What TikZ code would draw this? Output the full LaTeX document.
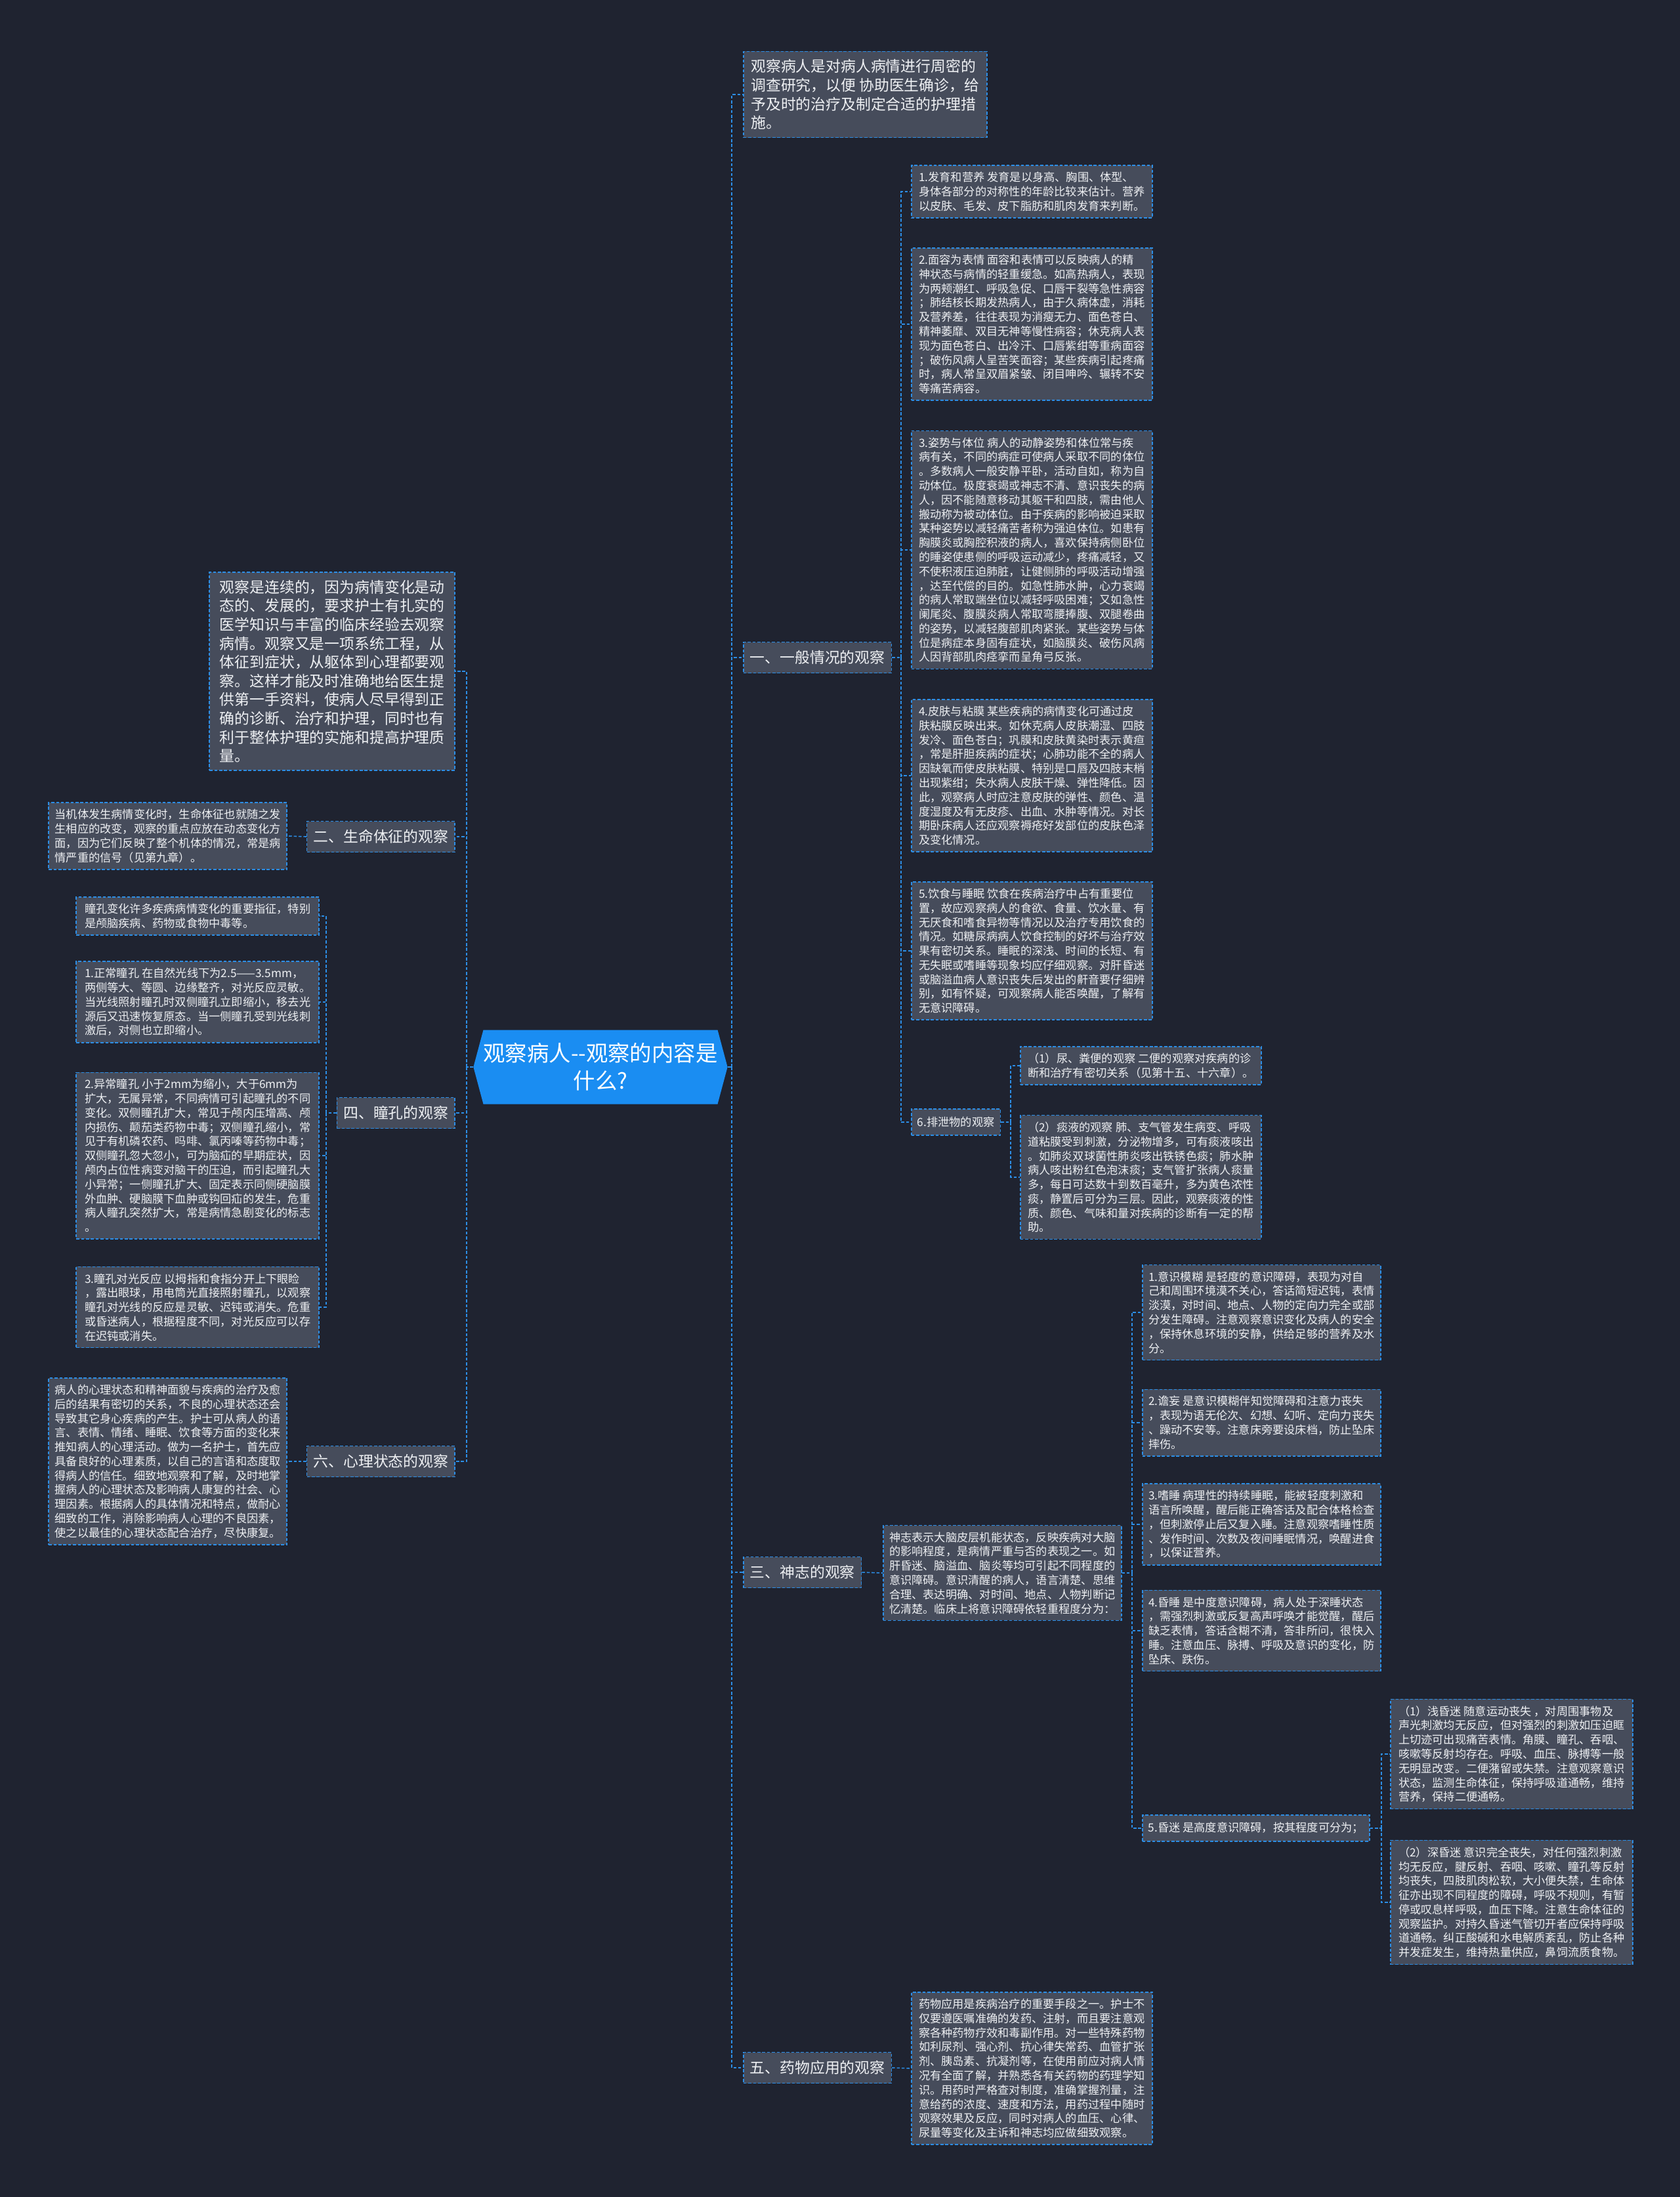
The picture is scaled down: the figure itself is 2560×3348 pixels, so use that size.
\documentclass[tikz,border=0pt]{standalone}
\usepackage{fontspec}
\setmainfont{Noto Sans CJK SC}
\usetikzlibrary{shapes.symbols}
\definecolor{bgc}{HTML}{1F2330}
\definecolor{boxc}{HTML}{464C5B}
\definecolor{lnc}{HTML}{2C8EE6}
\definecolor{hubc}{HTML}{1A8DF2}
\definecolor{txc}{HTML}{EEF0F3}
\begin{document}
\begin{tikzpicture}[x=0.02cm, y=-0.02cm, box/.style={draw=lnc, fill=boxc, line width=0.9pt, dash pattern=on 2.6pt off 1.6pt, text=txc, align=left, inner xsep=0.18cm, inner ysep=0.2cm, minimum width=7.34cm, font=\fontsize{9.8pt}{12.4pt}\selectfont}, big/.style={box, inner xsep=0.2cm, inner ysep=0.24cm, font=\fontsize{13pt}{16.3pt}\selectfont}, branch/.style={box, minimum width=0pt, minimum height=0.94cm, inner xsep=0.2cm, inner ysep=0pt, font=\fontsize{13pt}{16pt}\selectfont}, leaf/.style={box, minimum width=0pt, minimum height=0.8cm, inner ysep=0pt}, link/.style={draw=lnc, line width=0.9pt, dash pattern=on 2.6pt off 1.6pt}]
	\fill[bgc] (0,0) rectangle (2560,3348);
	% root
	\node[signal, signal to=east and west, signal pointer angle=150, fill=hubc, text=white, align=center, minimum width=7.56cm, minimum height=2.26cm, inner sep=0pt, font=\fontsize{19pt}{24pt}\selectfont] (root) at (915,1626) {观察病人-{}-观察的内容是\\什么?};
	% right side
	\node[big, anchor=west, minimum width=7.42cm] (intro) at (1132,144) {观察病人是对病人病情进行周密的\\调查研究，以便 协助医生确诊，给\\予及时的治疗及制定合适的护理措\\施。};
	\node[branch, anchor=west] (g1) at (1132,1002) {一、一般情况的观察};
	\node[box, anchor=west] (b1) at (1388,292) {1.发育和营养 发育是以身高、胸围、体型、\\身体各部分的对称性的年龄比较来估计。营养\\以皮肤、毛发、皮下脂肪和肌肉发育来判断。};
	\node[box, anchor=west] (b2) at (1388,494) {2.面容为表情 面容和表情可以反映病人的精\\神状态与病情的轻重缓急。如高热病人，表现\\为两颊潮红、呼吸急促、口唇干裂等急性病容\\；肺结核长期发热病人，由于久病体虚，消耗\\及营养差，往往表现为消瘦无力、面色苍白、\\精神萎靡、双目无神等慢性病容；休克病人表\\现为面色苍白、出冷汗、口唇紫绀等重病面容\\；破伤风病人呈苦笑面容；某些疾病引起疼痛\\时，病人常呈双眉紧皱、闭目呻吟、辗转不安\\等痛苦病容。};
	\node[box, anchor=west] (b3) at (1388,838) {3.姿势与体位 病人的动静姿势和体位常与疾\\病有关，不同的病症可使病人采取不同的体位\\。多数病人一般安静平卧，活动自如，称为自\\动体位。极度衰竭或神志不清、意识丧失的病\\人，因不能随意移动其躯干和四肢，需由他人\\搬动称为被动体位。由于疾病的影响被迫采取\\某种姿势以减轻痛苦者称为强迫体位。如患有\\胸膜炎或胸腔积液的病人，喜欢保持病侧卧位\\的睡姿使患侧的呼吸运动减少，疼痛减轻，又\\不使积液压迫肺脏，让健侧肺的呼吸活动增强\\，达至代偿的目的。如急性肺水肿，心力衰竭\\的病人常取端坐位以减轻呼吸困难；又如急性\\阑尾炎、腹膜炎病人常取弯腰捧腹、双腿卷曲\\的姿势，以减轻腹部肌肉紧张。某些姿势与体\\位是病症本身固有症状，如脑膜炎、破伤风病\\人因背部肌肉痉挛而呈角弓反张。};
	\node[box, anchor=west] (b4) at (1388,1182) {4.皮肤与粘膜 某些疾病的病情变化可通过皮\\肤粘膜反映出来。如休克病人皮肤潮湿、四肢\\发冷、面色苍白；巩膜和皮肤黄染时表示黄疸\\，常是肝胆疾病的症状；心肺功能不全的病人\\因缺氧而使皮肤粘膜、特别是口唇及四肢末梢\\出现紫绀；失水病人皮肤干燥、弹性降低。因\\此，观察病人时应注意皮肤的弹性、颜色、温\\度湿度及有无皮疹、出血、水肿等情况。对长\\期卧床病人还应观察褥疮好发部位的皮肤色泽\\及变化情况。};
	\node[box, anchor=west] (b5) at (1388,1449) {5.饮食与睡眠 饮食在疾病治疗中占有重要位\\置，故应观察病人的食欲、食量、饮水量、有\\无厌食和嗜食异物等情况以及治疗专用饮食的\\情况。如糖尿病病人饮食控制的好坏与治疗效\\果有密切关系。睡眠的深浅、时间的长短、有\\无失眠或嗜睡等现象均应仔细观察。对肝昏迷\\或脑溢血病人意识丧失后发出的鼾音要仔细辨\\别，如有怀疑，可观察病人能否唤醒，了解有\\无意识障碍。};
	\node[leaf, anchor=west] (b6) at (1388,1710) {6.排泄物的观察};
	\node[box, anchor=west] (e1) at (1554,1624) {（1）尿、粪便的观察 二便的观察对疾病的诊\\断和治疗有密切关系（见第十五、十六章）。};
	\node[box, anchor=west] (e2) at (1554,1794) {（2）痰液的观察 肺、支气管发生病变、呼吸\\道粘膜受到刺激，分泌物增多，可有痰液咳出\\。如肺炎双球菌性肺炎咳出铁锈色痰；肺水肿\\病人咳出粉红色泡沫痰；支气管扩张病人痰量\\多，每日可达数十到数百毫升，多为黄色浓性\\痰，静置后可分为三层。因此，观察痰液的性\\质、颜色、气味和量对疾病的诊断有一定的帮\\助。};
	\node[branch, anchor=west] (g3) at (1132,2396) {三、神志的观察};
	\node[box, anchor=west, minimum width=7.26cm] (m0) at (1345,2397) {神志表示大脑皮层机能状态，反映疾病对大脑\\的影响程度，是病情严重与否的表现之一。如\\肝昏迷、脑溢血、脑炎等均可引起不同程度的\\意识障碍。意识清醒的病人，语言清楚、思维\\合理、表达明确、对时间、地点、人物判断记\\忆清楚。临床上将意识障碍依轻重程度分为：};
	\node[box, anchor=west, minimum width=7.26cm] (m1) at (1740,2000) {1.意识模糊 是轻度的意识障碍，表现为对自\\己和周围环境漠不关心，答话简短迟钝，表情\\淡漠，对时间、地点、人物的定向力完全或部\\分发生障碍。注意观察意识变化及病人的安全\\，保持休息环境的安静，供给足够的营养及水\\分。};
	\node[box, anchor=west, minimum width=7.26cm] (m2) at (1740,2168) {2.谵妄 是意识模糊伴知觉障碍和注意力丧失\\，表现为语无伦次、幻想、幻听、定向力丧失\\、躁动不安等。注意床旁要设床档，防止坠床\\摔伤。};
	\node[box, anchor=west, minimum width=7.26cm] (m3) at (1740,2323) {3.嗜睡 病理性的持续睡眠，能被轻度刺激和\\语言所唤醒，醒后能正确答话及配合体格检查\\，但刺激停止后又复入睡。注意观察嗜睡性质\\、发作时间、次数及夜间睡眠情况，唤醒进食\\，以保证营养。};
	\node[box, anchor=west, minimum width=7.26cm] (m4) at (1740,2485) {4.昏睡 是中度意识障碍，病人处于深睡状态\\，需强烈刺激或反复高声呼唤才能觉醒，醒后\\缺乏表情，答话含糊不清，答非所问，很快入\\睡。注意血压、脉搏、呼吸及意识的变化，防\\坠床、跌伤。};
	\node[leaf, anchor=west] (m5) at (1740,2786) {5.昏迷 是高度意识障碍，按其程度可分为；};
	\node[box, anchor=west, minimum width=7.38cm] (c1) at (2118,2673) {（1）浅昏迷 随意运动丧失 ，对周围事物及\\声光刺激均无反应，但对强烈的刺激如压迫眶\\上切迹可出现痛苦表情。角膜、瞳孔、吞咽、\\咳嗽等反射均存在。呼吸、血压、脉搏等一般\\无明显改变。二便潴留或失禁。注意观察意识\\状态，监测生命体征，保持呼吸道通畅，维持\\营养，保持二便通畅。};
	\node[box, anchor=west, minimum width=7.38cm] (c2) at (2118,2899) {（2）深昏迷 意识完全丧失，对任何强烈刺激\\均无反应，腱反射、吞咽、咳嗽、瞳孔等反射\\均丧失，四肢肌肉松软，大小便失禁，生命体\\征亦出现不同程度的障碍，呼吸不规则，有暂\\停或叹息样呼吸，血压下降。注意生命体征的\\观察监护。对持久昏迷气管切开者应保持呼吸\\道通畅。纠正酸碱和水电解质紊乱，防止各种\\并发症发生，维持热量供应，鼻饲流质食物。};
	\node[branch, anchor=west] (g5) at (1132,3151) {五、药物应用的观察};
	\node[box, anchor=west] (d0) at (1388,3152) {药物应用是疾病治疗的重要手段之一。护士不\\仅要遵医嘱准确的发药、注射，而且要注意观\\察各种药物疗效和毒副作用。对一些特殊药物\\如利尿剂、强心剂、抗心律失常药、血管扩张\\剂、胰岛素、抗凝剂等，在使用前应对病人情\\况有全面了解，并熟悉各有关药物的药理学知\\识。用药时严格查对制度，准确掌握剂量，注\\意给药的浓度、速度和方法，用药过程中随时\\观察效果及反应，同时对病人的血压、心律、\\尿量等变化及主诉和神志均应做细致观察。};
	% left side
	\node[big, anchor=east, minimum width=7.48cm] (cont) at (694,1023) {观察是连续的，因为病情变化是动\\态的、发展的，要求护士有扎实的\\医学知识与丰富的临床经验去观察\\病情。观察又是一项系统工程，从\\体征到症状，从躯体到心理都要观\\察。这样才能及时准确地给医生提\\供第一手资料，使病人尽早得到正\\确的诊断、治疗和护理，同时也有\\利于整体护理的实施和提高护理质\\量。};
	\node[branch, anchor=east] (g2) at (694,1275) {二、生命体征的观察};
	\node[box, anchor=east, minimum width=7.26cm] (v0) at (438,1274) {当机体发生病情变化时，生命体征也就随之发\\生相应的改变，观察的重点应放在动态变化方\\面，因为它们反映了整个机体的情况，常是病\\情严重的信号（见第九章）。};
	\node[branch, anchor=east] (g4) at (694,1696) {四、瞳孔的观察};
	\node[box, anchor=east, minimum width=7.4cm] (p0) at (487,1396) {瞳孔变化许多疾病病情变化的重要指征，特别\\是颅脑疾病、药物或食物中毒等。};
	\node[box, anchor=east, minimum width=7.4cm] (p1) at (487,1527) {1.正常瞳孔 在自然光线下为2.5——3.5mm，\\两侧等大、等圆、边缘整齐，对光反应灵敏。\\当光线照射瞳孔时双侧瞳孔立即缩小，移去光\\源后又迅速恢复原态。当一侧瞳孔受到光线刺\\激后，对侧也立即缩小。};
	\node[box, anchor=east, minimum width=7.4cm] (p2) at (487,1761) {2.异常瞳孔 小于2mm为缩小，大于6mm为\\扩大，无属异常，不同病情可引起瞳孔的不同\\变化。双侧瞳孔扩大，常见于颅内压增高、颅\\内损伤、颠茄类药物中毒；双侧瞳孔缩小，常\\见于有机磷农药、吗啡、氯丙嗪等药物中毒；\\双侧瞳孔忽大忽小，可为脑疝的早期症状，因\\颅内占位性病变对脑干的压迫，而引起瞳孔大\\小异常；一侧瞳孔扩大、固定表示同侧硬脑膜\\外血肿、硬脑膜下血肿或钩回疝的发生，危重\\病人瞳孔突然扩大，常是病情急剧变化的标志\\。};
	\node[box, anchor=east, minimum width=7.4cm] (p3) at (487,1992) {3.瞳孔对光反应 以拇指和食指分开上下眼睑\\，露出眼球，用电筒光直接照射瞳孔，以观察\\瞳孔对光线的反应是灵敏、迟钝或消失。危重\\或昏迷病人，根据程度不同，对光反应可以存\\在迟钝或消失。};
	\node[branch, anchor=east] (g6) at (694,2227) {六、心理状态的观察};
	\node[box, anchor=east, minimum width=7.26cm] (s0) at (438,2227) {病人的心理状态和精神面貌与疾病的治疗及愈\\后的结果有密切的关系，不良的心理状态还会\\导致其它身心疾病的产生。护士可从病人的语\\言、表情、情绪、睡眠、饮食等方面的变化来\\推知病人的心理活动。做为一名护士，首先应\\具备良好的心理素质，以自己的言语和态度取\\得病人的信任。细致地观察和了解，及时地掌\\握病人的心理状态及影响病人康复的社会、心\\理因素。根据病人的具体情况和特点，做耐心\\细致的工作，消除影响病人心理的不良因素，\\使之以最佳的心理状态配合治疗，尽快康复。};
	% spines
	\coordinate (rs) at (1115,0);
	\coordinate (ls) at (711,0);
	\coordinate (s1) at (1373,0);
	\coordinate (s6) at (1540,0);
	\coordinate (sm) at (1725,0);
	\coordinate (s5) at (2105,0);
	\coordinate (s4) at (497,0);
	% connectors
	\draw[link] (root.east) -- (root.east -| rs);
	\draw[link] (root.east -| rs) |- (intro.west);
	\draw[link] (root.east -| rs) |- (g1.west);
	\draw[link] (root.east -| rs) |- (g3.west);
	\draw[link] (root.east -| rs) |- (g5.west);
	\draw[link] (root.west) -- (root.west -| ls);
	\draw[link] (root.west -| ls) |- (cont.east);
	\draw[link] (root.west -| ls) |- (g2.east);
	\draw[link] (root.west -| ls) |- (g4.east);
	\draw[link] (root.west -| ls) |- (g6.east);
	\draw[link] (g1.east) -- (g1.east -| s1);
	\draw[link] (g1.east -| s1) |- (b1.west);
	\draw[link] (g1.east -| s1) |- (b2.west);
	\draw[link] (g1.east -| s1) |- (b3.west);
	\draw[link] (g1.east -| s1) |- (b4.west);
	\draw[link] (g1.east -| s1) |- (b5.west);
	\draw[link] (g1.east -| s1) |- (b6.west);
	\draw[link] (b6.east) -- (b6.east -| s6);
	\draw[link] (b6.east -| s6) |- (e1.west);
	\draw[link] (b6.east -| s6) |- (e2.west);
	\draw[link] (g3.east) -- (m0.west);
	\draw[link] (m0.east) -- (m0.east -| sm);
	\draw[link] (m0.east -| sm) |- (m1.west);
	\draw[link] (m0.east -| sm) |- (m2.west);
	\draw[link] (m0.east -| sm) |- (m3.west);
	\draw[link] (m0.east -| sm) |- (m4.west);
	\draw[link] (m0.east -| sm) |- (m5.west);
	\draw[link] (m5.east) -- (m5.east -| s5);
	\draw[link] (m5.east -| s5) |- (c1.west);
	\draw[link] (m5.east -| s5) |- (c2.west);
	\draw[link] (g5.east) -- (d0.west);
	\draw[link] (g2.west) -- (v0.east);
	\draw[link] (g4.west) -- (g4.west -| s4);
	\draw[link] (g4.west -| s4) |- (p0.east);
	\draw[link] (g4.west -| s4) |- (p1.east);
	\draw[link] (g4.west -| s4) |- (p2.east);
	\draw[link] (g4.west -| s4) |- (p3.east);
	\draw[link] (g6.west) -- (s0.east);
\end{tikzpicture}
\end{document}
